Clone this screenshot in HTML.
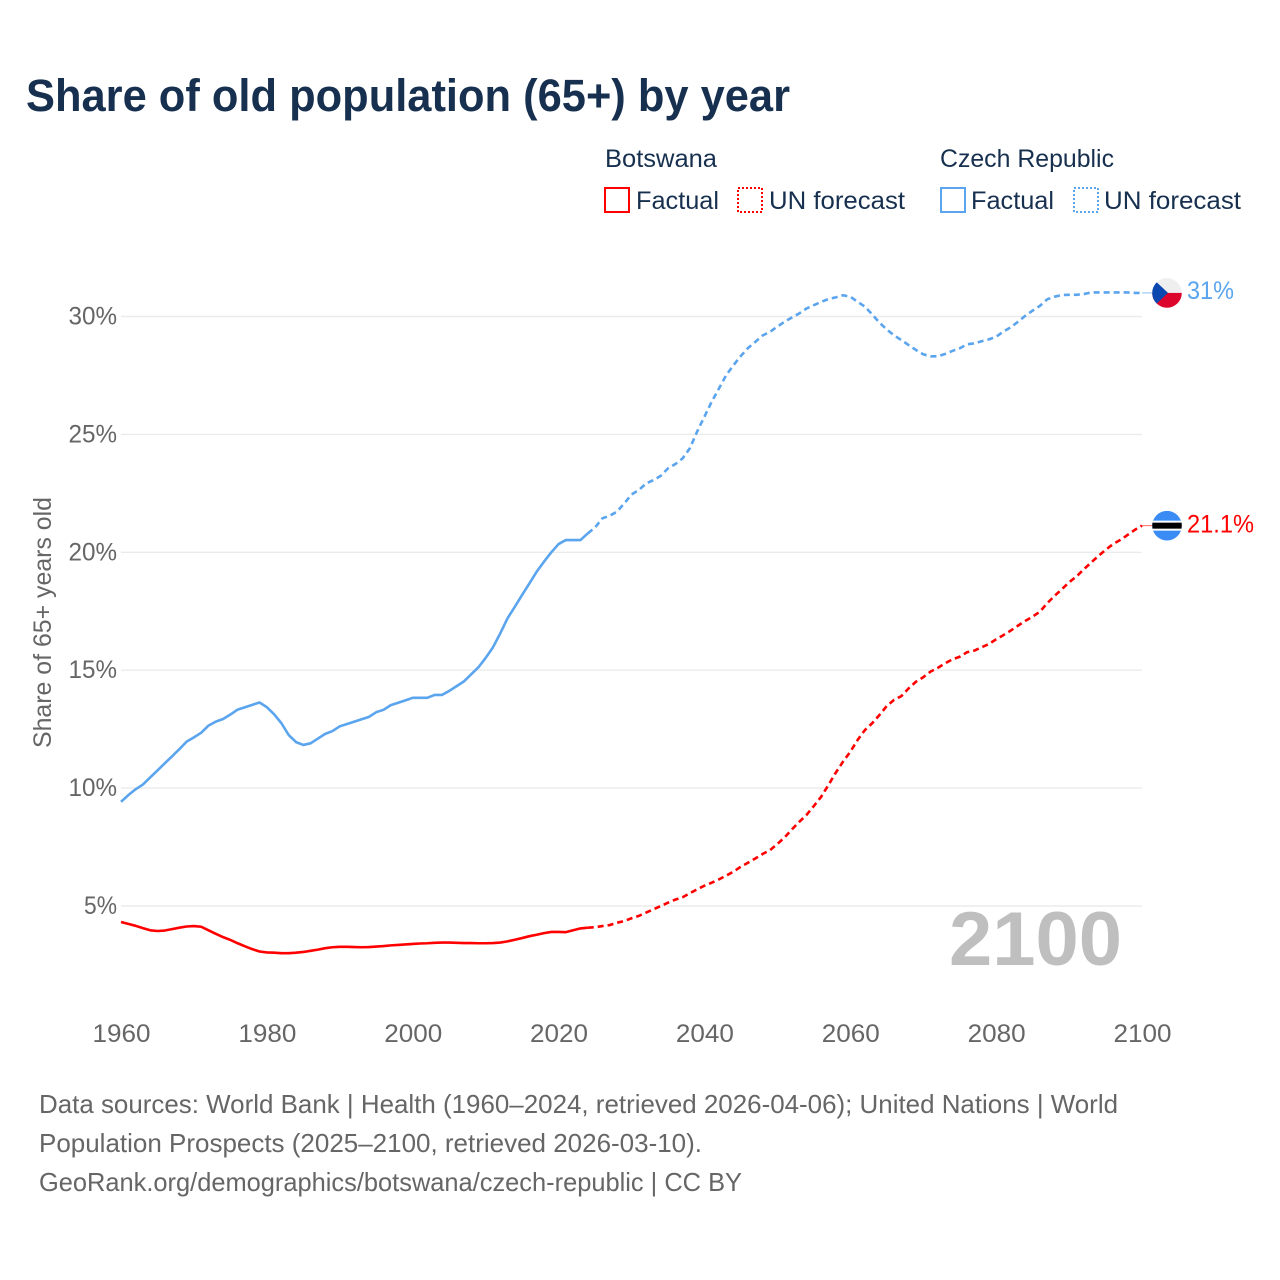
<!DOCTYPE html>
<html lang="en">
<head>
<meta charset="utf-8">
<title>Share of old population (65+) by year</title>
<style>
html,body{margin:0;padding:0;background:#fff;}
svg{display:block;font-family:"Liberation Sans",sans-serif;}
</style>
</head>
<body>
<svg id="chart" xmlns="http://www.w3.org/2000/svg" width="1280" height="1280" viewBox="0 0 1280 1280">
  <rect x="0" y="0" width="1280" height="1280" fill="#ffffff"/>
  <text x="26" y="111" font-size="45" font-weight="700" fill="#17304f" textLength="764" lengthAdjust="spacingAndGlyphs">Share of old population (65+) by year</text>

  <g font-size="25" fill="#17304f">
    <text x="605" y="167" textLength="112" lengthAdjust="spacingAndGlyphs">Botswana</text>
    <text x="940" y="167" textLength="174" lengthAdjust="spacingAndGlyphs">Czech Republic</text>
    <rect x="605" y="188" width="24" height="24" fill="none" stroke="#ff0000" stroke-width="2"/>
    <text x="636" y="209" textLength="83" lengthAdjust="spacingAndGlyphs">Factual</text>
    <rect x="738" y="188" width="24" height="24" fill="none" stroke="#ff0000" stroke-width="2" stroke-dasharray="2 2"/>
    <text x="769" y="209" textLength="136" lengthAdjust="spacingAndGlyphs">UN forecast</text>
    <rect x="941" y="188" width="24" height="24" fill="none" stroke="#5ba4ee" stroke-width="2"/>
    <text x="971" y="209" textLength="83" lengthAdjust="spacingAndGlyphs">Factual</text>
    <rect x="1074" y="188" width="24" height="24" fill="none" stroke="#5ba4ee" stroke-width="2" stroke-dasharray="2 2"/>
    <text x="1104" y="209" textLength="137" lengthAdjust="spacingAndGlyphs">UN forecast</text>
  </g>

  <g id="grid"></g>
  <g id="yticks" font-size="25" fill="#666666" text-anchor="end"></g>
  <g id="xticks" font-size="25" fill="#666666" text-anchor="middle"></g>
  <text transform="translate(51,748) rotate(-90)" font-size="25" fill="#666666" textLength="251" lengthAdjust="spacingAndGlyphs">Share of 65+ years old</text>

  <text x="949" y="965" font-size="76" font-weight="700" fill="#bfbfbf" textLength="173" lengthAdjust="spacingAndGlyphs">2100</text>

  <g id="series"></g>

  <defs>
    <clipPath id="flag-clip"><circle cx="0" cy="0" r="14.8"/></clipPath>
  </defs>
  <g id="flag-czech">
    <g clip-path="url(#flag-clip)">
      <rect x="-16" y="-16" width="32" height="16" fill="#efefef"/>
      <rect x="-16" y="0" width="32" height="16" fill="#dc062c"/>
      <polygon points="-16,-16 1,0 -16,16" fill="#0a48b0"/>
    </g>
  </g>
  <g id="flag-botswana">
    <g clip-path="url(#flag-clip)">
      <rect x="-16" y="-16" width="32" height="32" fill="#3a8cf4"/>
      <rect x="-16" y="-5" width="32" height="10" fill="#ffffff"/>
      <rect x="-16" y="-3" width="32" height="6" fill="#000000"/>
    </g>
  </g>
  <text id="label-czech" x="1187" font-size="25" fill="#5ba4ee" textLength="47" lengthAdjust="spacingAndGlyphs"></text>
  <text id="label-botswana" x="1187" font-size="25" fill="#ff0000" textLength="67" lengthAdjust="spacingAndGlyphs"></text>

  <g font-size="26" fill="#666666">
    <text x="39" y="1113" textLength="1079" lengthAdjust="spacingAndGlyphs">Data sources: World Bank | Health (1960–2024, retrieved 2026-04-06); United Nations | World</text>
    <text x="39" y="1152" textLength="663" lengthAdjust="spacingAndGlyphs">Population Prospects (2025–2100, retrieved 2026-03-10).</text>
    <text x="39" y="1191" textLength="703" lengthAdjust="spacingAndGlyphs">GeoRank.org/demographics/botswana/czech-republic | CC BY</text>
  </g>
</svg>

<script>
const factualYears = [1960,1961,1962,1963,1964,1965,1966,1967,1968,1969,1970,1971,1972,1973,1974,1975,1976,1977,1978,1979,1980,1981,1982,1983,1984,1985,1986,1987,1988,1989,1990,1991,1992,1993,1994,1995,1996,1997,1998,1999,2000,2001,2002,2003,2004,2005,2006,2007,2008,2009,2010,2011,2012,2013,2014,2015,2016,2017,2018,2019,2020,2021,2022,2023,2024];
const forecastYears = [2024,2025,2026,2027,2028,2029,2030,2031,2032,2033,2034,2035,2036,2037,2038,2039,2040,2041,2042,2043,2044,2045,2046,2047,2048,2049,2050,2051,2052,2053,2054,2055,2056,2057,2058,2059,2060,2061,2062,2063,2064,2065,2066,2067,2068,2069,2070,2071,2072,2073,2074,2075,2076,2077,2078,2079,2080,2081,2082,2083,2084,2085,2086,2087,2088,2089,2090,2091,2092,2093,2094,2095,2096,2097,2098,2099,2100];
const czechFactual = [9.42,9.7,9.95,10.15,10.45,10.75,11.05,11.35,11.65,11.97,12.15,12.35,12.65,12.82,12.93,13.12,13.33,13.43,13.53,13.63,13.43,13.13,12.75,12.25,11.95,11.83,11.9,12.1,12.3,12.42,12.62,12.72,12.82,12.92,13.02,13.22,13.32,13.52,13.62,13.72,13.83,13.83,13.83,13.95,13.95,14.12,14.32,14.52,14.82,15.12,15.52,15.97,16.56,17.2,17.69,18.19,18.68,19.18,19.6,20.0,20.35,20.52,20.52,20.52,20.8];
const czechForecast = [20.8,21.05,21.44,21.55,21.72,22.07,22.45,22.64,22.92,23.06,23.24,23.56,23.74,23.98,24.41,25.12,25.75,26.39,26.95,27.52,27.94,28.33,28.67,28.93,29.2,29.35,29.57,29.78,29.96,30.13,30.34,30.48,30.62,30.74,30.81,30.9,30.84,30.62,30.42,30.09,29.74,29.45,29.2,29.0,28.79,28.58,28.4,28.31,28.31,28.41,28.54,28.65,28.82,28.86,28.95,29.03,29.14,29.36,29.54,29.78,30.03,30.25,30.45,30.73,30.84,30.91,30.92,30.92,30.95,31.02,31.02,31.02,31.02,31.02,31.02,31.0,31.0];
const botswanaFactual = [4.32,4.24,4.16,4.06,3.97,3.94,3.96,4.02,4.08,4.13,4.15,4.12,3.97,3.82,3.68,3.56,3.42,3.29,3.17,3.07,3.03,3.02,3.0,3.0,3.02,3.05,3.1,3.15,3.21,3.25,3.27,3.27,3.26,3.25,3.26,3.28,3.3,3.33,3.35,3.37,3.39,3.41,3.42,3.44,3.45,3.45,3.44,3.43,3.43,3.42,3.42,3.43,3.45,3.5,3.57,3.64,3.72,3.78,3.85,3.9,3.9,3.89,3.97,4.05,4.08];
const botswanaForecast = [4.08,4.1,4.15,4.19,4.29,4.36,4.48,4.58,4.72,4.86,5.0,5.14,5.27,5.37,5.54,5.71,5.86,5.99,6.13,6.29,6.46,6.67,6.84,7.02,7.21,7.37,7.63,7.91,8.25,8.57,8.86,9.24,9.63,10.13,10.65,11.12,11.54,12.04,12.46,12.75,13.1,13.48,13.74,13.9,14.23,14.51,14.7,14.94,15.1,15.29,15.46,15.57,15.76,15.83,15.97,16.11,16.31,16.49,16.68,16.89,17.09,17.27,17.48,17.84,18.15,18.43,18.73,18.97,19.27,19.56,19.84,20.1,20.34,20.52,20.73,20.95,21.13];
const yTickValues = [5,10,15,20,25,30];
const yTickLabels = ["5%","10%","15%","20%","25%","30%"];
const xTickValues = [1960,1980,2000,2020,2040,2060,2080,2100];
const xTickLabels = ["1960","1980","2000","2020","2040","2060","2080","2100"];

const SVG_NS = "http://www.w3.org/2000/svg";
const plotLeft = 121, plotRight = 1142;
function xScale(year){ return plotLeft + (year - 1960) * (plotRight - plotLeft) / 140; }
function yScale(value){ return 906 - (value - 5) * 23.58; }
function node(tag, attrs, parent){
  const el = document.createElementNS(SVG_NS, tag);
  for (const k in attrs) el.setAttribute(k, attrs[k]);
  parent.appendChild(el);
  return el;
}

const gridGroup = document.getElementById("grid");
const yTickGroup = document.getElementById("yticks");
const xTickGroup = document.getElementById("xticks");
const seriesGroup = document.getElementById("series");

yTickValues.forEach(function(v, i){
  const line = node("line", {x1: plotLeft, x2: plotRight, y1: yScale(v), y2: yScale(v), stroke: "#ebebeb", "stroke-width": 1.4}, gridGroup);
  
  
  const label = node("text", {x: 117, y: yScale(v) + 8, textLength: yTickLabels[i].length * 15.5 + 2, lengthAdjust: "spacingAndGlyphs"}, yTickGroup);
  
  
  label.textContent = yTickLabels[i];
});

xTickValues.forEach(function(v, i){
  const label = node("text", {x: xScale(v) + 0.5, y: 1042, textLength: 58, lengthAdjust: "spacingAndGlyphs"}, xTickGroup);
  
  
  label.textContent = xTickLabels[i];
});

function pathFrom(years, values){
  return values.map(function(v, i){
    return (i ? "L" : "M") + xScale(years[i]).toFixed(2) + " " + yScale(v).toFixed(2);
  }).join(" ");
}

const botswanaFactualLine = node("path", {d: pathFrom(factualYears, botswanaFactual), fill: "none", stroke: "#ff0000", "stroke-width": 2.6, "stroke-linejoin": "round"}, seriesGroup);



const botswanaForecastLine = node("path", {d: pathFrom(forecastYears, botswanaForecast), fill: "none", stroke: "#ff0000", "stroke-width": 2.6, "stroke-dasharray": "6 4", "stroke-linejoin": "round"}, seriesGroup);



const czechFactualLine = node("path", {d: pathFrom(factualYears, czechFactual), fill: "none", stroke: "#5ba4ee", "stroke-width": 2.6, "stroke-linejoin": "round"}, seriesGroup);



const czechForecastLine = node("path", {d: pathFrom(forecastYears, czechForecast), fill: "none", stroke: "#5ba4ee", "stroke-width": 2.6, "stroke-dasharray": "6 4", "stroke-linejoin": "round"}, seriesGroup);



const czechEnd = yScale(czechForecast[czechForecast.length - 1]);
const botswanaEnd = yScale(botswanaForecast[botswanaForecast.length - 1]);

const czechConnector = node("line", {x1: plotRight, x2: 1152, y1: czechEnd, y2: czechEnd, stroke: "#5ba4ee", "stroke-width": 1, opacity: 0.7}, seriesGroup);



const botswanaConnector = node("line", {x1: plotRight, x2: 1152, y1: botswanaEnd, y2: botswanaEnd, stroke: "#ff0000", "stroke-width": 1, opacity: 0.6}, seriesGroup);



document.getElementById("flag-czech").setAttribute("transform", "translate(1167," + czechEnd + ")");
document.getElementById("flag-botswana").setAttribute("transform", "translate(1167," + botswanaEnd + ")");

const labelCzech = document.getElementById("label-czech");
labelCzech.setAttribute("y", czechEnd + 6);
labelCzech.textContent = (Math.round(czechForecast[czechForecast.length - 1] * 10) / 10) + "%";
const labelBotswana = document.getElementById("label-botswana");
labelBotswana.setAttribute("y", botswanaEnd + 7);
labelBotswana.textContent = (Math.round(botswanaForecast[botswanaForecast.length - 1] * 10) / 10) + "%";
</script>
</body>
</html>
